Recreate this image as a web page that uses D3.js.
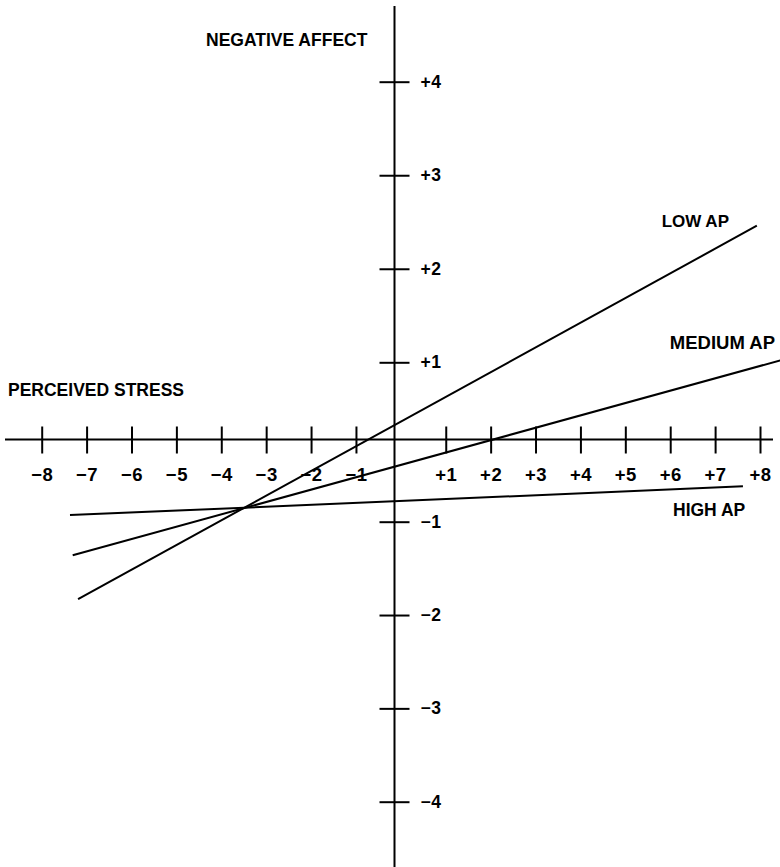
<!DOCTYPE html>
<html>
<head>
<meta charset="utf-8">
<script src="https://cdn.jsdelivr.net/npm/d3@7"></script>
<style>
  html, body { margin: 0; padding: 0; background: #fff; }
  svg { display: block; }
  text { font-family: "Liberation Sans", Arial, Helvetica, sans-serif; font-weight: bold; fill: #000; }
</style>
</head>
<body>
<svg id="chart" width="780" height="867"></svg>
<script>
// ---- data ----
const xTickValues = [-8, -7, -6, -5, -4, -3, -2, -1, 1, 2, 3, 4, 5, 6, 7, 8];
const yTickValues = [4, 3, 2, 1, -1, -2, -3, -4];
const seriesNames = ["LOW AP", "MEDIUM AP", "HIGH AP"];
const lowAP    = [[-7.19, -1.83], [7.93, 2.46]];
const mediumAP = [[-7.31, -1.36], [8.45, 1.02]];
const highAP   = [[-7.37, -0.92], [7.62, -0.57]];
const xAxisTitle = "PERCEIVED STRESS";
const yAxisTitle = "NEGATIVE AFFECT";

// ---- scales ----
const W = 780, H = 867;
const svg = d3.select("#chart");
const x = d3.scaleLinear().domain([-8, 8]).range([41.7, 760]);
// the printed y axis is slightly irregular around zero; piecewise scale follows tick positions
const y = d3.scaleLinear().domain([-4, -1, 0, 1, 4]).range([801.7, 521.7, 439.5, 362.3, 81.7]);

const fmt = v => (v > 0 ? "+" : "\u2212") + Math.abs(v);
const y0 = y(0);
const axisX = 394.5;

// ---- x axis ----
svg.append("line")
  .attr("x1", 5).attr("x2", 773).attr("y1", y0).attr("y2", y0)
  .attr("stroke", "#000").attr("stroke-width", 2);

const gx = svg.append("g").attr("transform", `translate(0,${y0})`)
  .call(d3.axisBottom(x).tickValues(xTickValues).tickSize(14).tickPadding(26).tickFormat(fmt));
gx.select(".domain").remove();
gx.selectAll(".tick line").attr("y1", -13).attr("stroke", "#000").attr("stroke-width", 2);
gx.selectAll(".tick text").attr("font-size", 18.5).attr("font-family", null)
  .attr("dy", null).attr("y", 41).attr("letter-spacing", 0.5);

// ---- y axis ----
svg.append("line")
  .attr("x1", axisX).attr("x2", axisX).attr("y1", 6).attr("y2", H)
  .attr("stroke", "#000").attr("stroke-width", 2);

const gy = svg.append("g").attr("transform", `translate(${axisX},0)`)
  .call(d3.axisRight(y).tickValues(yTickValues).tickSize(15).tickPadding(11).tickFormat(fmt));
gy.select(".domain").remove();
gy.selectAll(".tick line").attr("x1", -15).attr("stroke", "#000").attr("stroke-width", 2);
gy.selectAll(".tick text").attr("font-size", 17.5).attr("font-family", null).attr("letter-spacing", 0.5);

// ---- axis titles ----
svg.append("text").attr("x", 206).attr("y", 46).attr("font-size", 17.5).text(yAxisTitle);
svg.append("text").attr("x", 8).attr("y", 396).attr("font-size", 17.5).text(xAxisTitle);

// ---- series lines ----
const series = [lowAP, mediumAP, highAP];
const line = d3.line().x(d => x(d[0])).y(d => y(d[1]));
svg.append("g").selectAll("path").data(series).join("path")
  .attr("d", line)
  .attr("fill", "none").attr("stroke", "#000").attr("stroke-width", 2);

// ---- series labels ----
const labelPos = [
  { anchor: "end", px: 729, py: 227, size: 17 },
  { anchor: "end", px: 775, py: 349, size: 18.5 },
  { anchor: "start", px: 673, py: 516, size: 17.5 }
];
svg.append("g").selectAll("text").data(seriesNames).join("text")
  .attr("x", (d, i) => labelPos[i].px)
  .attr("y", (d, i) => labelPos[i].py)
  .attr("text-anchor", (d, i) => labelPos[i].anchor)
  .attr("font-size", (d, i) => labelPos[i].size)
  .text(d => d);
</script>
</body>
</html>
